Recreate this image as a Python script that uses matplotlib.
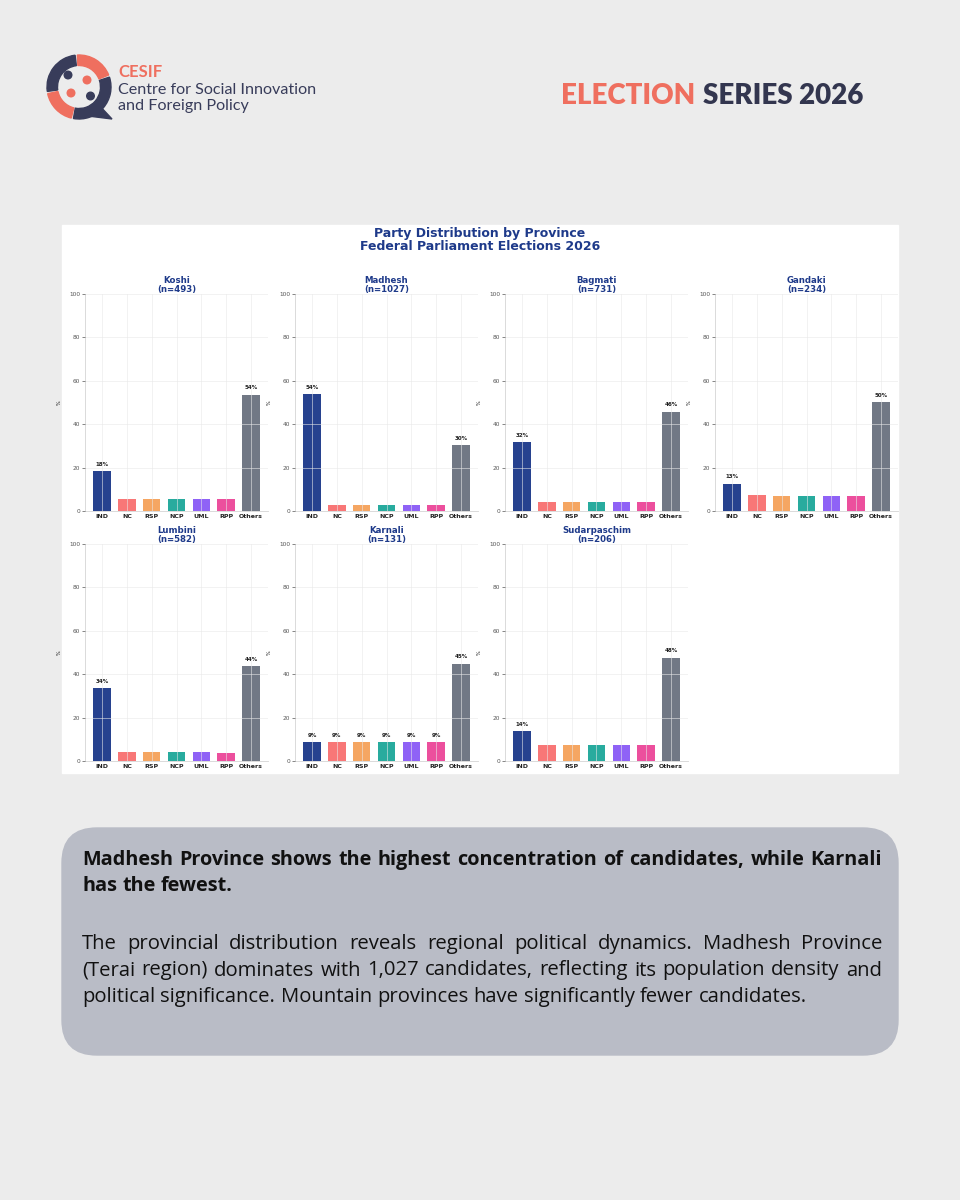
import numpy as np
import matplotlib.pyplot as plt
from matplotlib.patches import FancyBboxPatch, Wedge, Circle, Rectangle, Polygon

# ---- data ----
parties = ["IND", "NC", "RSP", "NCP", "UML", "RPP", "Others"]
party_colors = ["#1e3a8a", "#f87171", "#f5a35c", "#1fa89a", "#8b5cf6", "#ec4899", "#6b7280"]

provinces = ["Koshi", "Madhesh", "Bagmati", "Gandaki", "Lumbini", "Karnali", "Sudarpaschim"]
candidates = [493, 1027, 731, 234, 582, 131, 206]

koshi = [18.3, 5.4, 5.4, 5.4, 5.4, 5.4, 53.6]
madhesh = [53.7, 2.9, 2.9, 2.9, 2.9, 2.9, 30.3]
bagmati = [31.6, 4.2, 4.2, 4.2, 4.2, 4.2, 45.7]
gandaki = [12.6, 7.5, 6.9, 6.9, 6.9, 6.9, 50.2]
lumbini = [33.5, 4.0, 4.0, 4.0, 4.0, 3.9, 43.7]
karnali = [8.8, 8.8, 8.8, 8.8, 8.8, 8.8, 44.8]
sudarpaschim = [13.6, 7.3, 7.3, 7.3, 7.3, 7.3, 47.6]
shares = [koshi, madhesh, bagmati, gandaki, lumbini, karnali, sudarpaschim]

headline = ["Madhesh Province shows the highest concentration of candidates, while Karnali",
            "has the fewest."]
body = ["The provincial distribution reveals regional political dynamics. Madhesh Province",
        "(Terai region) dominates with 1,027 candidates, reflecting its population density and",
        "political significance. Mountain provinces have significantly fewer candidates."]

W, H = 960, 1200
fig = plt.figure(figsize=(9.6, 12), dpi=100)
fig.patch.set_facecolor("#ececec")

# background axes in pixel units
bg = fig.add_axes([0, 0, 1, 1])
bg.set_xlim(0, W)
bg.set_ylim(H, 0)
bg.axis("off")

navy = "#383c5a"
coral = "#ef6f5f"

# ---- logo ----
cx, cy, r = 79, 87, 32
# visual angles (counter-clockwise); y axis is flipped so negate
for a1, a2, c in [(-100, 18, navy), (22, 93, coral), (97, 188, navy), (192, 256, coral)]:
    bg.add_patch(Wedge((cx, cy), r, -a2, -a1, width=10.5, color=c))
bg.add_patch(Polygon([(98, 104), (112, 119), (88, 116)], closed=True, color=navy))
for (dx, dy, c) in [(68, 75, navy), (87, 80, coral), (71, 93, coral), (90.5, 96, navy)]:
    bg.add_patch(Circle((dx, dy), 3.8, color=c))

bg.text(118, 72, "CESIF", color=coral, fontsize=12, fontweight="bold",
        family="Lato", va="center")
bg.text(118, 90, "Centre for Social Innovation", color=navy, fontsize=11.6,
        family="Lato", va="center")
bg.text(118, 106, "and Foreign Policy", color=navy, fontsize=11.6,
        family="Lato", va="center")

# ---- header right ----
fig.canvas.draw()
renderer = fig.canvas.get_renderer()
t2 = bg.text(863, 96, "SERIES 2026", color="#33364f", fontsize=20,
             fontweight="heavy", family="Lato", ha="right", va="center")
bb = t2.get_window_extent(renderer)
bg.text(bb.x0 - 7, 96, "ELECTION", color=coral, fontsize=20,
        fontweight="heavy", family="Lato", ha="right", va="center")

# ---- chart panel ----
bg.add_patch(Rectangle((62, 225), 836, 548, color="white", zorder=1))
bg.text(480, 234, "Party Distribution by Province", color="#1e3a8a", fontsize=9,
        fontweight="bold", ha="center", va="center", zorder=3)
bg.text(480, 247, "Federal Parliament Elections 2026", color="#1e3a8a", fontsize=9,
        fontweight="bold", ha="center", va="center", zorder=3)

lefts = [85, 295, 505, 715]
tops = [294, 544]
aw, ah = 183, 217
x = np.arange(len(parties))
for i, (name, n, vals) in enumerate(zip(provinces, candidates, shares)):
    row, col = divmod(i, 4)
    l, t = lefts[col], tops[row]
    ax = fig.add_axes([l / W, 1 - (t + ah) / H, aw / W, ah / H])
    ax.set_facecolor("white")
    ax.bar(x, vals, width=0.7, color=party_colors, alpha=0.96, zorder=2)
    for xi, v in zip(x, vals):
        if v >= 8:
            ax.text(xi, v + 2, f"{v:.0f}%", ha="center", va="bottom",
                    fontsize=4, fontweight="bold", color="#222222")
    ax.set_ylim(0, 100)
    ax.set_yticks(range(0, 101, 20))
    ax.set_xticks(x)
    ax.set_xticklabels(parties, fontsize=4.5, fontweight="bold", color="#222222")
    ax.tick_params(axis="y", labelsize=4.2, colors="#555555", length=2, width=0.5, pad=1.5)
    ax.tick_params(axis="x", length=0, pad=2.5)
    ax.grid(True, color="#e8e8e8", lw=0.5, alpha=0.8, zorder=3)
    ax.set_axisbelow(False)
    for s in ["top", "right"]:
        ax.spines[s].set_visible(False)
    for s in ["left", "bottom"]:
        ax.spines[s].set_color("#d4d4d4")
        ax.spines[s].set_linewidth(0.6)
    ax.set_ylabel("%", fontsize=3.5, labelpad=5)
    ax.set_title(f"{name}\n(n={n})", fontsize=6.2, fontweight="bold",
                 color="#1e3a8a", pad=1, linespacing=1.0)

# ---- text box ----
bg.add_patch(FancyBboxPatch((62 + 35, 828 + 35), 836 - 70, 227 - 70,
                            boxstyle="round,pad=35", color="#b9bcc6", zorder=1))

FAMILY = "Open Sans"


def measure(line, weight, size):
    t = bg.text(0, 0, line, fontsize=size, fontweight=weight, family=FAMILY)
    w = t.get_window_extent(renderer).width
    t.remove()
    return w


def justified(lines, y0, dy, weight, base, width=800):
    # pick a size so the longest full line fills the column with normal spacing
    nat = max(measure(ln, weight, base) for ln in lines[:-1])
    size = min(base * (width - 6) / nat, base * 1.25)
    for k, line in enumerate(lines):
        y = y0 + k * dy
        words = line.split(" ")
        objs = [bg.text(0, y, w, fontsize=size, fontweight=weight, family=FAMILY,
                        color="#111111", va="center", zorder=3) for w in words]
        widths = [o.get_window_extent(renderer).width for o in objs]
        space = size * 100 / 72 * 0.26
        if k == len(lines) - 1:
            gap = space
        else:
            gap = (width - sum(widths)) / max(len(words) - 1, 1)
        xx = 82
        for o, w in zip(objs, widths):
            o.set_x(xx)
            xx += w + gap


fig.canvas.draw()
justified(headline, 860, 26, "bold", 12.5)
justified(body, 944, 26.5, "normal", 12.5)

fig.savefig("out.png", dpi=100, facecolor=fig.get_facecolor())
